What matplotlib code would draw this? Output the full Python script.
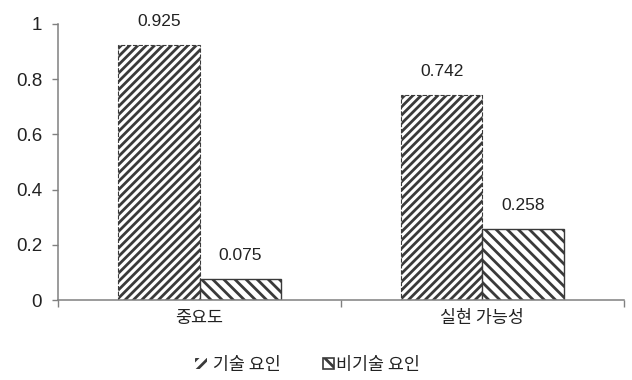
import matplotlib
matplotlib.use("Agg")
import matplotlib.pyplot as plt
from matplotlib.patches import Patch
import numpy as np

plt.rcParams['font.family'] = ['Noto Sans CJK KR', 'DejaVu Sans']
plt.rcParams['hatch.linewidth'] = 2.0

categories = ['중요도', '실현 가능성']
series_names = ['기술 요인', '비기술 요인']
tech = [0.925, 0.742]
non_tech = [0.075, 0.258]
value_labels_tech = ['0.925', '0.742']
value_labels_non = ['0.075', '0.258']
y_ticks = [0, 0.2, 0.4, 0.6, 0.8, 1.0]
y_tick_labels = ['0', '0.2', '0.4', '0.6', '0.8', '1']

num_font = ['Liberation Sans', 'DejaVu Sans']
text_col = '#222222'
axis_col = '#808080'
edge_col = '#3a3a3a'

fig = plt.figure(figsize=(6.32, 3.80), dpi=100)
ax = fig.add_axes([0.092, 0.21, 0.895, 0.727])

x = np.arange(len(categories))
w = 0.287

b1 = ax.bar(x - w / 2, tech, w, color='white', edgecolor=edge_col,
            hatch='////', linewidth=0.8, linestyle='--')
b2 = ax.bar(x + w / 2, non_tech, w, color='white', edgecolor=edge_col,
            hatch='\\\\\\', linewidth=1.0)

for bars, labels in ((b1, value_labels_tech), (b2, value_labels_non)):
    for rect, lab in zip(bars, labels):
        ax.annotate(lab, (rect.get_x() + rect.get_width() / 2, rect.get_height()),
                    xytext=(0, 17), textcoords='offset points', ha='center',
                    va='center', fontsize=12.5, color=text_col, family=num_font)

ax.set_xlim(-0.5, len(categories) - 0.5)
ax.set_ylim(0, 1)

ax.set_yticks(y_ticks)
ax.set_yticklabels(y_tick_labels, fontsize=13.5, color=text_col, family=num_font)
ax.tick_params(axis='y', direction='out', length=4.5, width=1, color=axis_col, pad=7)

# category boundaries carry the ticks, category centres carry the labels
ax.set_xticks(np.arange(-0.5, len(categories)), minor=False)
ax.set_xticklabels([''] * (len(categories) + 1))
ax.tick_params(axis='x', which='major', direction='out', length=5, width=1, color=axis_col)
ax.set_xticks(x, minor=True)
ax.set_xticklabels(categories, minor=True, fontsize=12.5, color=text_col)
ax.tick_params(axis='x', which='minor', length=0, pad=6)

for side in ['top', 'right']:
    ax.spines[side].set_visible(False)
for side in ['left', 'bottom']:
    ax.spines[side].set_color(axis_col)
    ax.spines[side].set_linewidth(1.1)

handles = [Patch(facecolor='white', edgecolor=edge_col, hatch='///', linewidth=0),
           Patch(facecolor='white', edgecolor=edge_col, hatch='\\\\', linewidth=1.2)]
legend_labels = [' ' + series_names[0], series_names[1]]
fig.legend(handles, legend_labels, loc='center', bbox_to_anchor=(0.487, 0.04),
           ncol=2, frameon=False, fontsize=12.5, handlelength=0.65, handleheight=0.65,
           handletextpad=0.15, columnspacing=2.4, labelcolor=text_col)

fig.savefig('out.png', dpi=100)
